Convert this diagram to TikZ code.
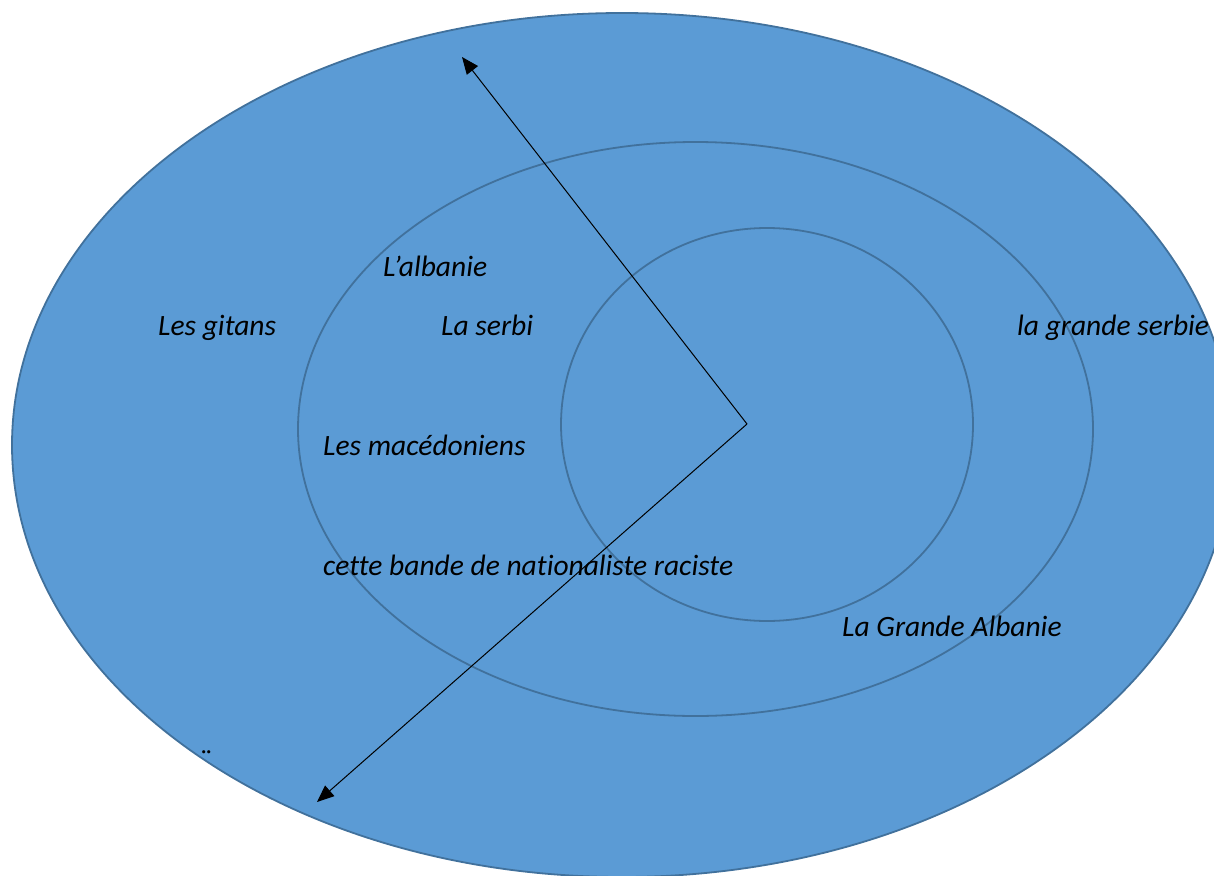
\documentclass[tikz,border=0pt]{standalone}
\usepackage{fontspec}
\setmainfont{Carlito}[Ligatures={NoCommon}]
\usetikzlibrary{arrows.meta}
\definecolor{fillblue}{HTML}{5B9BD5}
\definecolor{edgeblue}{HTML}{41719C}
\tikzset{
  ring/.style={draw=edgeblue, line width=1.8pt},
  lbl/.style={anchor=base west, inner sep=0pt, font=\fontsize{29.5}{34}\selectfont\itshape},
  ray/.style={draw=black, line width=1pt, -{Triangle[length=17pt,width=14pt]}}
}
\begin{document}
\begin{tikzpicture}[x=1pt,y=-1pt]
\useasboundingbox (0,0) rectangle (1214,875);
\clip (0,0) rectangle (1214,875);
\fill[white] (0,0) rectangle (1214,875);
\draw[ring, fill=fillblue] (622,445) ellipse [x radius=610, y radius=432];
\draw[ring] (695.5,429) ellipse [x radius=397.5, y radius=287];
\draw[ring] (767,424.5) ellipse [x radius=206, y radius=196.5];
\coordinate (c) at (747,424);
\coordinate (tipA) at (462,57);
\coordinate (tipB) at (317,802);
\draw[ray] (c) -- (tipA);
\draw[ray] (c) -- (tipB);
\node[lbl] (alb) at (383,276) {L’albanie};
\node[lbl] (git) at (158,335) {Les gitans};
\node[lbl] (ser) at (441,335) {La serbi};
\node[lbl] (gser) at (1017,335) {la grande serbie};
\node[lbl] (mac) at (323,455) {Les macédoniens};
\node[lbl] (cet) at (323,575) {cette bande de nationaliste raciste};
\node[lbl] (galb) at (842,636) {La Grande Albanie};
\node[lbl] (dots) at (199,770) {¨};
\end{tikzpicture}
\end{document}
